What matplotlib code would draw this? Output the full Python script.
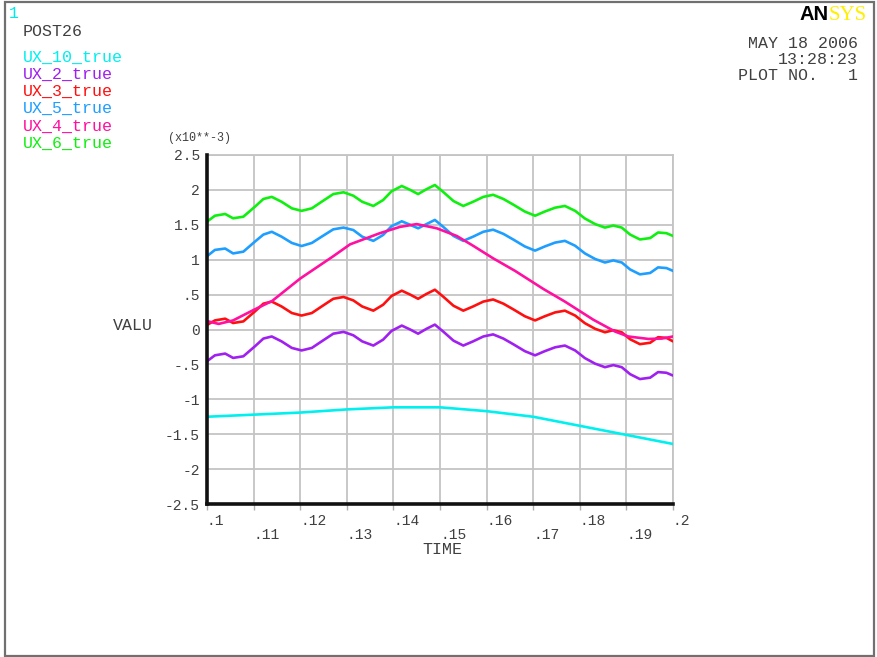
import matplotlib
matplotlib.use("Agg")
import matplotlib.pyplot as plt
from matplotlib.patches import Rectangle

# ---------------- data (values in units of 1e-3) ----------------
time_wave = [0.1000, 0.1017, 0.1039, 0.1056, 0.1078, 0.1103, 0.1121, 0.1139, 0.1160, 0.1182,
             0.1203, 0.1225, 0.1246, 0.1271, 0.1293, 0.1314, 0.1333, 0.1357, 0.1378, 0.1396,
             0.1418, 0.1436, 0.1453, 0.1471, 0.1489, 0.1507, 0.1529, 0.1550, 0.1571, 0.1593,
             0.1614, 0.1636, 0.1657, 0.1682, 0.1704, 0.1725, 0.1747, 0.1768, 0.1790, 0.1811,
             0.1833, 0.1854, 0.1872, 0.1890, 0.1908, 0.1929, 0.1951, 0.1968, 0.1986, 0.2000]

ux6 = [1.545, 1.63, 1.655, 1.593, 1.616, 1.76, 1.87, 1.90, 1.83, 1.736,
       1.70, 1.736, 1.83, 1.94, 1.966, 1.917, 1.83, 1.77, 1.855, 1.98,
       2.056, 2.00, 1.94, 2.01, 2.07, 1.97, 1.84, 1.77, 1.83, 1.90,
       1.93, 1.87, 1.79, 1.69, 1.63, 1.69, 1.745, 1.77, 1.70, 1.59,
       1.51, 1.46, 1.49, 1.46, 1.36, 1.29, 1.31, 1.39, 1.38, 1.34]

ux5 = [1.05, 1.14, 1.16, 1.09, 1.115, 1.26, 1.36, 1.40, 1.33, 1.24,
       1.196, 1.24, 1.33, 1.435, 1.46, 1.425, 1.33, 1.27, 1.355, 1.48,
       1.55, 1.50, 1.45, 1.51, 1.57, 1.47, 1.34, 1.27, 1.33, 1.40,
       1.43, 1.37, 1.29, 1.19, 1.13, 1.19, 1.245, 1.27, 1.20, 1.09,
       1.01, 0.96, 0.99, 0.96, 0.86, 0.79, 0.81, 0.89, 0.88, 0.84]

ux3 = [0.065, 0.13, 0.155, 0.093, 0.116, 0.26, 0.37, 0.40, 0.33, 0.236,
       0.20, 0.236, 0.33, 0.44, 0.466, 0.417, 0.33, 0.27, 0.355, 0.48,
       0.556, 0.50, 0.44, 0.51, 0.57, 0.47, 0.34, 0.27, 0.33, 0.40,
       0.43, 0.37, 0.29, 0.19, 0.13, 0.19, 0.245, 0.27, 0.20, 0.09,
       0.01, -0.04, -0.01, -0.04, -0.14, -0.21, -0.19, -0.11, -0.12, -0.17]

ux2 = [-0.455, -0.37, -0.345, -0.407, -0.384, -0.24, -0.13, -0.10, -0.17, -0.264,
       -0.30, -0.264, -0.17, -0.06, -0.034, -0.083, -0.17, -0.23, -0.145, -0.02,
       0.056, 0.0, -0.06, 0.01, 0.07, -0.03, -0.16, -0.23, -0.17, -0.10,
       -0.07, -0.13, -0.21, -0.31, -0.37, -0.31, -0.255, -0.23, -0.30, -0.41,
       -0.49, -0.54, -0.51, -0.54, -0.64, -0.71, -0.69, -0.61, -0.62, -0.66]

time_ux4 = [0.1000, 0.1025, 0.1056, 0.1100, 0.1140, 0.1200, 0.1271, 0.1307, 0.1371, 0.1414,
            0.1450, 0.1493, 0.1536, 0.1571, 0.1614, 0.1661, 0.1722, 0.1768, 0.1829, 0.1876,
            0.1904, 0.1947, 0.1976, 0.2000]
ux4 = [0.12, 0.08, 0.13, 0.28, 0.41, 0.73, 1.05, 1.22, 1.38, 1.47,
       1.51, 1.45, 1.34, 1.20, 1.02, 0.84, 0.58, 0.40, 0.14, -0.03,
       -0.10, -0.135, -0.13, -0.10]

time_ux10 = [0.10, 0.11, 0.12, 0.13, 0.14, 0.15, 0.16, 0.17, 0.18, 0.19, 0.20]
ux10 = [-1.25, -1.22, -1.19, -1.145, -1.115, -1.115, -1.17, -1.25, -1.38, -1.51, -1.64]

series_names = ["UX_10_true", "UX_2_true", "UX_3_true", "UX_5_true", "UX_4_true", "UX_6_true"]
series_colors = ["#00F0F0", "#A020F0", "#FF1010", "#1E9EFF", "#FF10A0", "#10F010"]

x_ticks = [0.10, 0.11, 0.12, 0.13, 0.14, 0.15, 0.16, 0.17, 0.18, 0.19, 0.20]
x_ticklabels = [".1", ".11", ".12", ".13", ".14", ".15", ".16", ".17", ".18", ".19", ".2"]
y_ticks = [2.5, 2, 1.5, 1, 0.5, 0, -0.5, -1, -1.5, -2, -2.5]
y_ticklabels = ["2.5", "2", "1.5", "1", ".5", "0", "-.5", "-1", "-1.5", "-2", "-2.5"]

# ---------------- figure ----------------
W, H = 877, 657
fig = plt.figure(figsize=(W / 100, H / 100), dpi=100)
FONT = "Liberation Mono"
TXT = "#404040"


def fx(px):
    return px / W


def fy(py):
    return 1 - py / H


# outer border
fig.patches.append(Rectangle((fx(4.5), fy(655.5)), fx(874) - fx(4.5), fy(1.5) - fy(655.5),
                             transform=fig.transFigure, fill=False, edgecolor="#707070",
                             linewidth=1.6))

ax = fig.add_axes([fx(207), fy(504), fx(673) - fx(207), fy(155) - fy(504)])

data = [
    (time_ux10, ux10),
    (time_wave, ux2),
    (time_wave, ux3),
    (time_wave, ux5),
    (time_ux4, ux4),
    (time_wave, ux6),
]
for (t, v), c in zip(data, series_colors):
    ax.plot(t, v, color=c, linewidth=1.9, solid_capstyle="round", zorder=3)

ax.set_xlim(0.1, 0.2)
ax.set_ylim(-2.5, 2.5)
ax.set_xticks(x_ticks)
ax.set_xticklabels([("\n" + lab) if i % 2 else lab for i, lab in enumerate(x_ticklabels)],
                   fontfamily=FONT, fontsize=10.5, color=TXT, ha="left", linespacing=1.0)
ax.set_yticks(y_ticks)
ax.set_yticklabels(y_ticklabels, fontfamily=FONT, fontsize=10.5, color=TXT)
ax.tick_params(axis="x", length=4, width=1, color="#b0b0b0", pad=3)
ax.tick_params(axis="y", length=0, pad=5)
ax.grid(True, color="#c4c4c4", linewidth=1.3, zorder=1)

for side in ("top", "right"):
    ax.spines[side].set_color("#c4c4c4")
    ax.spines[side].set_linewidth(1.3)
for side in ("left", "bottom"):
    ax.spines[side].set_color("#111111")
    ax.spines[side].set_linewidth(2.6)
    ax.spines[side].set_zorder(4)

ax.set_xlabel("TIME", fontfamily=FONT, fontsize=12, color=TXT)
ax.xaxis.set_label_coords((442 - 207) / 466, (504 - 549) / 349)
ax.xaxis.label.set_va("center")
ax.set_ylabel("VALU", fontfamily=FONT, fontsize=12, color=TXT, rotation=0,
              ha="center", va="center")
ax.yaxis.set_label_coords((133 - 207) / 466, (504 - 325) / 349)

fig.text(fx(199), fy(138), "(x10**-3)", fontfamily=FONT, fontsize=8.5, color=TXT,
         ha="center", va="center")

# top-left annotations
fig.text(fx(9), fy(13), "1", fontfamily=FONT, fontsize=12, color="#00E8E8",
         ha="left", va="center")
fig.text(fx(23), fy(31), "POST26", fontfamily=FONT, fontsize=12, color=TXT,
         ha="left", va="center")
legend_y = [57, 74, 91, 108, 126, 143]
for name, c, py in zip(series_names, series_colors, legend_y):
    fig.text(fx(23), fy(py), name, fontfamily=FONT, fontsize=12, color=c,
             ha="left", va="center")

# top-right annotations
fig.text(fx(829), fy(15), "AN", fontfamily="Liberation Sans", fontweight="bold",
         fontsize=14.5, color="black", ha="right", va="center")
fig.text(fx(829), fy(15), "SYS", fontfamily="Liberation Serif", fontsize=15,
         color="#FFF000", ha="left", va="center")
fig.text(fx(858), fy(43), "MAY 18 2006", fontfamily=FONT, fontsize=12, color=TXT,
         ha="right", va="center")
fig.text(fx(858), fy(59), "13:28:23", fontfamily=FONT, fontsize=12, color=TXT,
         ha="right", va="center")
fig.text(fx(858), fy(76), "PLOT NO.   1", fontfamily=FONT, fontsize=12, color=TXT,
         ha="right", va="center")

fig.savefig("out.png", dpi=100)
